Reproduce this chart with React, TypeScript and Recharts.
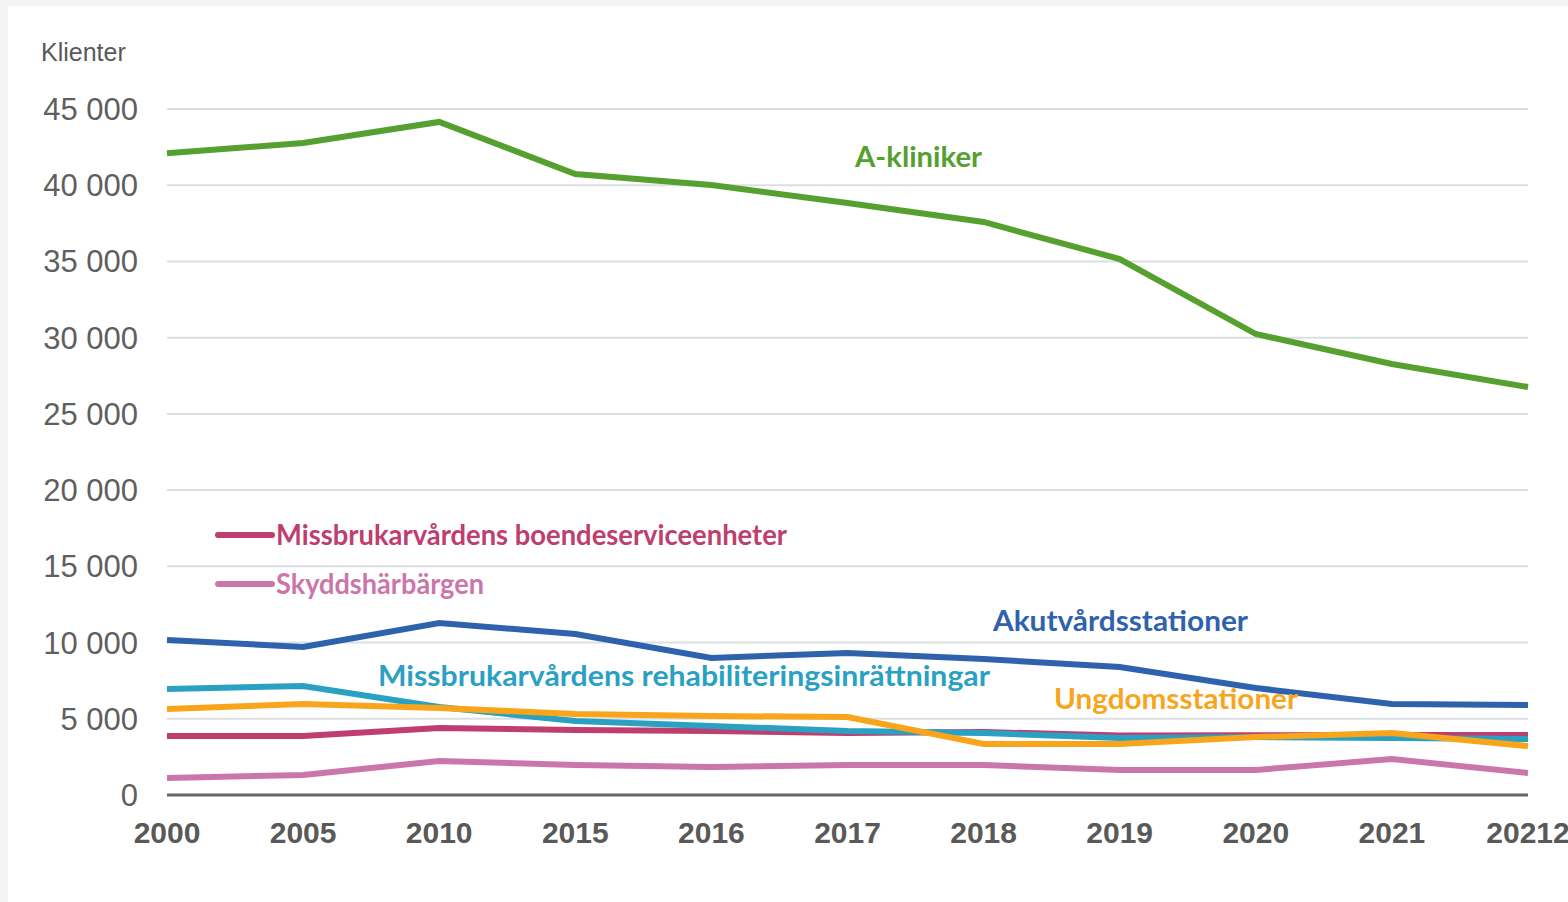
import React from "react";
import { LineChart, Line, XAxis, YAxis, CartesianGrid } from "recharts";

const years = ["2000", "2005", "2010", "2015", "2016", "2017", "2018", "2019", "2020", "2021", "2022"];
const xTickLabels = ["2000", "2005", "2010", "2015", "2016", "2017", "2018", "2019", "2020", "2021", "20212"];
const yTicks = [0, 5000, 10000, 15000, 20000, 25000, 30000, 35000, 40000, 45000];

const aKliniker = [42100, 42770, 44150, 40740, 40020, 38830, 37590, 35160, 30240, 28270, 26760];
const akutvard = [10170, 9710, 11280, 10560, 8990, 9320, 8920, 8400, 7020, 5970, 5900];
const rehab = [6950, 7150, 5770, 4850, 4530, 4200, 4070, 3740, 3800, 3740, 3670];
const ungdom = [5640, 5970, 5710, 5310, 5180, 5120, 3350, 3350, 3800, 4070, 3210];
const boende = [3870, 3870, 4400, 4260, 4200, 4070, 4130, 3900, 3920, 3940, 3940];
const skydd = [1120, 1310, 2230, 1970, 1840, 1970, 1970, 1640, 1640, 2360, 1440];

const data = years.map((y, i) => ({
  year: y,
  aKliniker: aKliniker[i],
  akutvard: akutvard[i],
  rehab: rehab[i],
  ungdom: ungdom[i],
  boende: boende[i],
  skydd: skydd[i],
}));

const C = {
  green: "#55a02f",
  blue: "#2f62ad",
  cyan: "#2aa1c3",
  orange: "#f8a51c",
  crimson: "#be3e6f",
  pink: "#cb76ab",
};

const fmt = (v: number) => String(v).replace(/\B(?=(\d{3})+(?!\d))/g, " ");

const annFont = { fontFamily: "Lato, 'Open Sans', sans-serif", fontWeight: 700, fontSize: 28 } as const;

export default function App() {
  return (
    <div style={{ position: "fixed", inset: 0, background: "#f3f3f3", overflow: "hidden" }}>
      <div style={{ position: "absolute", left: 8, top: 6, width: 1560, height: 896, background: "#ffffff" }}>
        <LineChart width={1560} height={896} data={data} margin={{ top: 103, right: 40, bottom: 0, left: 0 }}>
          <CartesianGrid vertical={false} stroke="#dcdfe2" strokeWidth={2} />
          <XAxis
            dataKey="year"
            interval={0}
            padding={{ left: 0, right: 0 }}
            height={107}
            tickLine={false}
            tickSize={0}
            tickMargin={27}
            axisLine={{ stroke: "#666666", strokeWidth: 3 }}
            tick={{ fill: "#595959", fontSize: 30, fontWeight: 700, fontFamily: "Liberation Sans, Arial, sans-serif" }}
            tickFormatter={(_v: string, i: number) => xTickLabels[i]}
          />
          <YAxis
            width={159}
            domain={[0, 45000]}
            ticks={yTicks}
            interval={0}
            axisLine={false}
            tickLine={false}
            tickSize={0}
            tickMargin={29}
            tick={{ fill: "#5f5f5f", fontSize: 31, fontFamily: "Liberation Sans, Arial, sans-serif" }}
            tickFormatter={fmt}
          />
          <Line type="linear" dataKey="boende" stroke={C.crimson} strokeWidth={6} dot={false} isAnimationActive={false} />
          <Line type="linear" dataKey="skydd" stroke={C.pink} strokeWidth={6} dot={false} isAnimationActive={false} />
          <Line type="linear" dataKey="rehab" stroke={C.cyan} strokeWidth={6} dot={false} isAnimationActive={false} />
          <Line type="linear" dataKey="ungdom" stroke={C.orange} strokeWidth={6} dot={false} isAnimationActive={false} />
          <Line type="linear" dataKey="akutvard" stroke={C.blue} strokeWidth={6} dot={false} isAnimationActive={false} />
          <Line type="linear" dataKey="aKliniker" stroke={C.green} strokeWidth={6} dot={false} isAnimationActive={false} />
        </LineChart>
        <svg width={1560} height={896} style={{ position: "absolute", left: 0, top: 0, pointerEvents: "none" }}>
          <text x={33} y={55} fill="#595959" fontSize={25} fontFamily="Liberation Sans, Arial, sans-serif">Klienter</text>
          <text x={847} y={161} fill={C.green} {...annFont} textLength={127} lengthAdjust="spacingAndGlyphs">A-kliniker</text>
          <line x1={210} y1={529} x2={264} y2={529} stroke={C.crimson} strokeWidth={6} strokeLinecap="round" />
          <text x={268} y={539} fill={C.crimson} {...annFont} textLength={511} lengthAdjust="spacingAndGlyphs">Missbrukarvårdens boendeserviceenheter</text>
          <line x1={210} y1={578} x2={264} y2={578} stroke={C.pink} strokeWidth={6} strokeLinecap="round" />
          <text x={268} y={588} fill={C.pink} {...annFont} textLength={208} lengthAdjust="spacingAndGlyphs">Skyddshärbärgen</text>
          <text x={985} y={625} fill={C.blue} {...annFont} textLength={255} lengthAdjust="spacingAndGlyphs">Akutvårdsstationer</text>
          <text x={370} y={680} fill={C.cyan} {...annFont} textLength={612} lengthAdjust="spacingAndGlyphs">Missbrukarvårdens rehabiliteringsinrättningar</text>
          <text x={1046} y={703} fill={C.orange} {...annFont} textLength={244} lengthAdjust="spacingAndGlyphs">Ungdomsstationer</text>
        </svg>
      </div>
    </div>
  );
}
